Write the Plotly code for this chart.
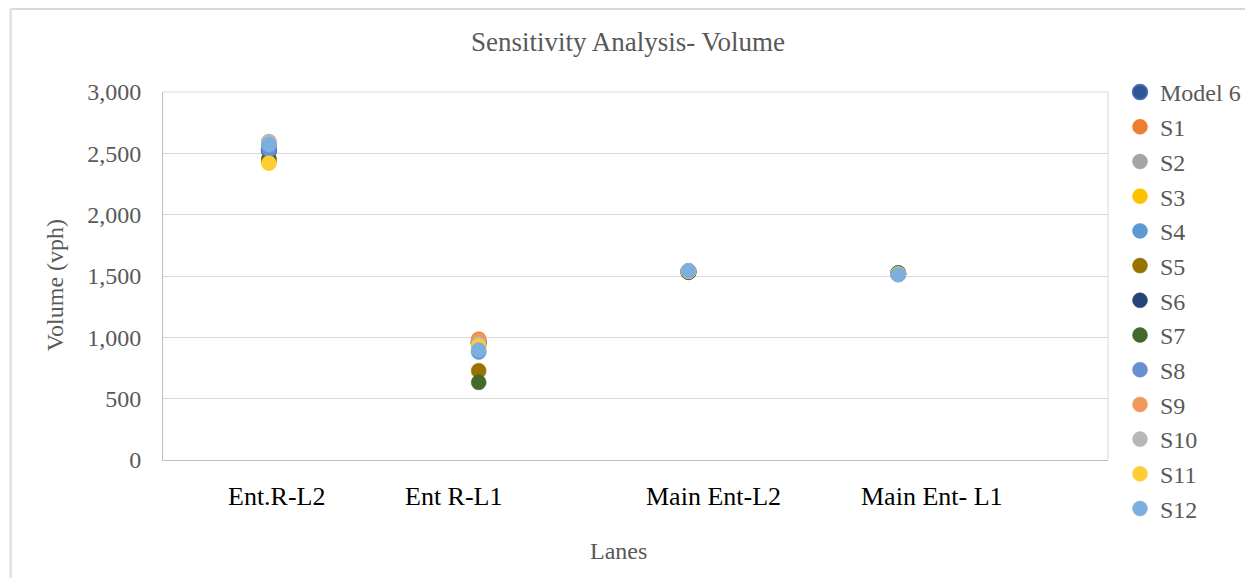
import plotly.graph_objects as go

lanes = ["Ent.R-L2", "Ent R-L1", "Main Ent-L2", "Main Ent- L1"]
series_names = ["Model 6", "S1", "S2", "S3", "S4", "S5", "S6", "S7", "S8", "S9", "S10", "S11", "S12"]

model6 = [2530, 960, 1535, 1520]
s1 = [2570, 985, 1540, 1515]
s2 = [2595, 950, 1540, 1515]
s3 = [2425, 940, 1535, 1520]
s4 = [2560, 880, 1540, 1515]
s5 = [2445, 728, 1535, 1520]
s6 = [2520, 950, 1535, 1520]
s7 = [2455, 633, 1530, 1525]
s8 = [2530, 955, 1540, 1515]
s9 = [2585, 975, 1540, 1515]
s10 = [2595, 945, 1540, 1515]
s11 = [2420, 930, 1540, 1515]
s12 = [2570, 897, 1543, 1510]

values = [model6, s1, s2, s3, s4, s5, s6, s7, s8, s9, s10, s11, s12]
colors = ["#2F5597", "#ED7D31", "#A5A5A5", "#FFC000", "#5B9BD5", "#997300",
          "#264478", "#43682B", "#698ED0", "#F1975A", "#B7B7B7", "#FFCD33", "#7CAFDD"]
line_colors = ["#4472C4"] + colors[1:]

xpos = [1, 2, 3, 4]
label_pos = [1.04, 1.88, 3.12, 4.16]

font_family = "Liberation Serif"
txt = "#595959"

W, H = 1253, 578
OFF = 8  # page body margin
L, T, R, B = 163 - OFF, 92 - OFF, 1118 - OFF, 460 - OFF
PW, PH = R - L, B - T


def px(sx):
    return (sx - OFF - L) / PW


def py(sy):
    return (B - (sy - OFF)) / PH


fig = go.Figure()
for i, (name, vals) in enumerate(zip(series_names, values)):
    fig.add_trace(go.Scatter(
        x=xpos, y=vals, mode="markers", name=name, legendgroup=name,
        marker=dict(size=15, color=colors[i],
                    line=dict(color=line_colors[i], width=1.5 if i == 0 else 0.5)),
    ))

fig.update_layout(
    width=W, height=H,
    margin=dict(l=L, r=W - R, t=T, b=H - B),
    paper_bgcolor="white", plot_bgcolor="white",
    font=dict(family=font_family, color=txt, size=24),
    title=dict(text="Sensitivity Analysis- Volume", x=(628 - OFF) / W, xanchor="center",
               y=1 - (42 - OFF) / H, yanchor="middle",
               font=dict(family=font_family, size=27, color=txt)),
    showlegend=True,
    legend=dict(xref="container", yref="container", x=(1120 - OFF) / W, y=1 - (70 - OFF) / H,
                xanchor="left", yanchor="top", traceorder="grouped",
                tracegroupgap=0.5, itemwidth=30, maxheight=560,
                font=dict(family=font_family, size=24, color=txt),
                bgcolor="rgba(0,0,0,0)"),
    xaxis=dict(range=[0.495, 5.0], showticklabels=False,
               showgrid=False, zeroline=False, showline=True, linecolor="#BFBFBF",
               ticks=""),
    yaxis=dict(range=[0, 3000], dtick=500, tickformat=",", showgrid=True,
               gridcolor="#D9D9D9", zeroline=False, showline=True, linecolor="#BFBFBF",
               ticks="", ticklabelstandoff=16, tickfont=dict(size=24, color=txt)),
)

# category labels under the axis
for lbl, pos in zip(lanes, label_pos):
    fig.add_annotation(text=lbl, xref="x", yref="paper", x=pos, y=py(496),
                       showarrow=False, xanchor="center", yanchor="middle",
                       font=dict(family=font_family, size=26, color="#000000"))

# plot area frame (top/right)
fig.add_shape(type="line", xref="paper", yref="paper", x0=0, x1=1, y0=1, y1=1,
              line=dict(color="#D9D9D9", width=1))
fig.add_shape(type="line", xref="paper", yref="paper", x0=1, x1=1, y0=0, y1=1,
              line=dict(color="#D9D9D9", width=1))
# chart area border (left/top visible)
fig.add_shape(type="line", xref="paper", yref="paper", x0=px(OFF + 1), x1=px(OFF + 1),
              y0=py(OFF + 1), y1=py(700), line=dict(color="#D9D9D9", width=2))
fig.add_shape(type="line", xref="paper", yref="paper", x0=px(OFF + 1), x1=px(1400),
              y0=py(OFF + 1), y1=py(OFF + 1), line=dict(color="#D9D9D9", width=2))

fig.add_annotation(text="Volume (vph)", xref="paper", yref="paper",
                   x=px(54), y=py(285), textangle=-90, showarrow=False,
                   xanchor="center", yanchor="middle",
                   font=dict(family=font_family, size=24, color=txt))
fig.add_annotation(text="Lanes", xref="paper", yref="paper",
                   x=px(623), y=py(551), showarrow=False,
                   xanchor="center", yanchor="middle",
                   font=dict(family=font_family, size=24, color=txt))

fig.write_html("out.html")
